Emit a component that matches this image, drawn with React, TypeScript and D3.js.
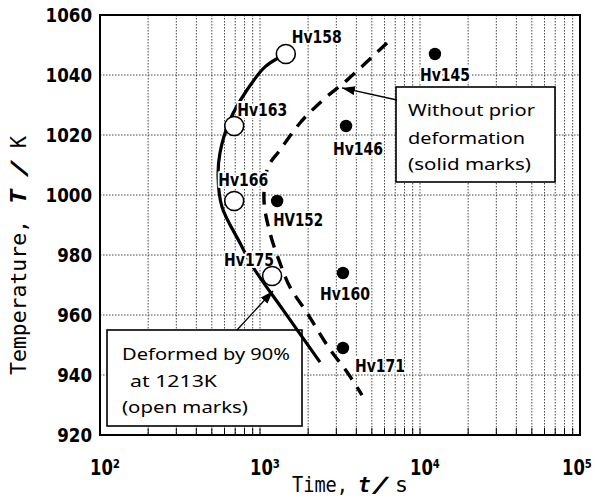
import React, { useEffect, useRef } from 'react';
import * as d3 from 'd3';

// axis ticks
const yTicks = [920, 940, 960, 980, 1000, 1020, 1040, 1060];
const xExponents = [2, 3, 4, 5];
const superDigits: Record<number, string> = { 2: '\u00B2', 3: '\u00B3', 4: '\u2074', 5: '\u2075' };

// open marks: deformed by 90% at 1213K
const openLabels = ['Hv158', 'Hv163', 'Hv166', 'Hv175'];
const openTime = [1450, 690, 690, 1190];
const openTemp = [1047, 1023, 998, 973];

// solid marks: without prior deformation
const solidLabels = ['Hv145', 'Hv146', 'HV152', 'Hv160', 'Hv171'];
const solidTime = [12400, 3450, 1280, 3300, 3300];
const solidTemp = [1047, 1023, 998, 974, 949];

// C-curve, deformed (solid line)
const deformedCurveTime = [1334, 1075, 829, 649, 562, 547, 579, 750, 904, 1393, 2371];
const deformedCurveTemp = [1046, 1042.7, 1035, 1025, 1014, 1006, 996, 984, 976, 961.7, 944.3];

// C-curve, no prior deformation (dashed line)
const plainCurveTime = [6220, 3500, 2475, 1778, 1334, 1122, 1059, 1155, 1334, 1540, 1967, 2700, 3500, 4340];
const plainCurveTemp = [1050.7, 1038.3, 1031.7, 1024, 1015, 1009.3, 998.3, 987.3, 977.3, 969.3, 960.7, 949, 941, 933.3];

// label offsets from the marker (px): [dx, dy]
const labelOffsets: Record<string, [number, number]> = {
  Hv158: [6, -18], Hv163: [3, -17], Hv166: [-16, -22], Hv175: [-48, -17],
  Hv145: [-15, 20], Hv146: [-13, 22], HV152: [-4, 18], Hv160: [-23, 20], Hv171: [12, 17],
};

const W = 599;
const H = 502;
const boldFont = "'DejaVu Sans Condensed', 'DejaVu Sans', sans-serif";
const titleFont = "'DejaVu Sans Mono', monospace";
const boxFont = "'Noto Sans', 'DejaVu Sans', sans-serif";

const App: React.FC = () => {
  const svgRef = useRef<SVGSVGElement>(null);

  useEffect(() => {
    if (!svgRef.current) return;
    const svg = d3.select(svgRef.current);
    svg.selectAll('*').remove();

    const left = 100, right = 580, top = 15, bottom = 435;
    const x = d3.scaleLog().domain([1e2, 1e5]).range([left, right]);
    const y = d3.scaleLinear().domain([920, 1060]).range([bottom, top]);

    svg.append('rect').attr('width', W).attr('height', H).attr('fill', '#fff');

    const defs = svg.append('defs');
    defs.append('marker')
      .attr('id', 'arrow')
      .attr('markerUnits', 'userSpaceOnUse')
      .attr('markerWidth', 14).attr('markerHeight', 10)
      .attr('refX', 13).attr('refY', 4.5)
      .attr('orient', 'auto')
      .append('path').attr('d', 'M0,0 L13,4.5 L0,9 Z').attr('fill', '#000');

    // grid
    const minor: number[] = [];
    [2, 3, 4].forEach(e => {
      for (let k = 1; k <= 9; k++) minor.push(k * Math.pow(10, e));
    });
    const inner = minor.filter(v => v > 100 && v < 1e5);
    const grid = svg.append('g').attr('stroke', '#333').attr('stroke-width', 0.9).attr('stroke-dasharray', '1.5,1.5');
    grid.selectAll('line.v').data(inner).join('line')
      .attr('x1', d => x(d)).attr('x2', d => x(d)).attr('y1', top).attr('y2', bottom);
    grid.selectAll('line.h').data(yTicks.filter(v => v > 920 && v < 1060)).join('line')
      .attr('x1', left).attr('x2', right).attr('y1', d => y(d)).attr('y2', d => y(d));

    // inner ticks on the time axis
    svg.append('g').attr('stroke', '#000').attr('stroke-width', 1)
      .selectAll('line').data(inner).join('line')
      .attr('x1', d => x(d)).attr('x2', d => x(d)).attr('y1', bottom).attr('y2', bottom - 7);

    // annotation boxes
    const box1 = { x: 396, y: 87, w: 159, h: 95 };
    const box2 = { x: 107, y: 330, w: 195, h: 96 };
    [box1, box2].forEach(b => {
      svg.append('rect').attr('x', b.x).attr('y', b.y).attr('width', b.w).attr('height', b.h)
        .attr('fill', '#fff').attr('stroke', '#000').attr('stroke-width', 1.6);
    });
    const boxText = (txt: string, tx: number, ty: number, len: number) =>
      svg.append('text').attr('x', tx).attr('y', ty).attr('font-family', boxFont)
        .attr('font-size', 17).attr('textLength', len).attr('lengthAdjust', 'spacingAndGlyphs')
        .attr('fill', '#000').text(txt);
    boxText('Without prior', 408, 116, 127);
    boxText('deformation', 408, 144, 117);
    boxText('(solid marks)', 408, 170, 123);
    boxText('Deformed by 90%', 122, 360, 168);
    boxText('at 1213K', 130, 387, 87);
    boxText('(open marks)', 122, 413, 126);

    // frame
    svg.append('rect').attr('x', left).attr('y', top).attr('width', right - left).attr('height', bottom - top)
      .attr('fill', 'none').attr('stroke', '#000').attr('stroke-width', 2);

    // curves
    const line = d3.line<[number, number]>()
      .x(d => x(d[0])).y(d => y(d[1]))
      .curve(d3.curveCatmullRom.alpha(0.5));
    svg.append('path')
      .attr('d', line(deformedCurveTime.map((t, i) => [t, deformedCurveTemp[i]]))!)
      .attr('fill', 'none').attr('stroke', '#000').attr('stroke-width', 3.2);
    svg.append('path')
      .attr('d', line(plainCurveTime.map((t, i) => [t, plainCurveTemp[i]]))!)
      .attr('fill', 'none').attr('stroke', '#000').attr('stroke-width', 3.4)
      .attr('stroke-dasharray', '13,9');

    // arrows
    svg.append('line').attr('x1', 397).attr('y1', 100).attr('x2', x(3254)).attr('y2', y(1035.7))
      .attr('stroke', '#000').attr('stroke-width', 1.3).attr('marker-end', 'url(#arrow)');
    svg.append('line').attr('x1', 237).attr('y1', 330).attr('x2', x(1205)).attr('y2', y(968))
      .attr('stroke', '#000').attr('stroke-width', 1.3).attr('marker-end', 'url(#arrow)');

    // point labels
    const labels = svg.append('g').attr('font-family', boldFont).attr('font-weight', 'bold')
      .attr('font-size', 18).attr('fill', '#000');
    const addLabel = (name: string, t: number, T: number) => {
      const [dx, dy] = labelOffsets[name];
      labels.append('text')
        .attr('x', x(t) + dx).attr('y', y(T) + dy + 6.5)
        .attr('textLength', 50).attr('lengthAdjust', 'spacingAndGlyphs')
        .attr('stroke', '#fff').attr('stroke-width', 4).attr('paint-order', 'stroke')
        .attr('stroke-linejoin', 'round')
        .text(name);
    };
    openLabels.forEach((n, i) => addLabel(n, openTime[i], openTemp[i]));
    solidLabels.forEach((n, i) => addLabel(n, solidTime[i], solidTemp[i]));

    // markers
    svg.append('g').selectAll('circle').data(openTime).join('circle')
      .attr('cx', d => x(d)).attr('cy', (d, i) => y(openTemp[i])).attr('r', 9.5)
      .attr('fill', '#fff').attr('stroke', '#000').attr('stroke-width', 1.6);
    svg.append('g').selectAll('circle').data(solidTime).join('circle')
      .attr('cx', d => x(d)).attr('cy', (d, i) => y(solidTemp[i])).attr('r', 6.2)
      .attr('fill', '#000');

    // y tick labels
    svg.append('g').attr('font-family', boldFont).attr('font-weight', 'bold').attr('font-size', 19)
      .selectAll('text').data(yTicks).join('text')
      .attr('x', 92).attr('y', d => y(d) + 7).attr('text-anchor', 'end')
      .attr('textLength', d => String(d).length * 11.6).attr('lengthAdjust', 'spacingAndGlyphs')
      .text(d => String(d));

    // x tick labels (10^n)
    svg.append('g').attr('font-family', boldFont).attr('font-weight', 'bold').attr('font-size', 21)
      .selectAll('text').data(xExponents).join('text')
      .attr('x', e => Math.min(x(Math.pow(10, e)), W - 27) - 10).attr('y', 475)
      .attr('textLength', 30).attr('lengthAdjust', 'spacingAndGlyphs')
      .text(e => '10' + superDigits[e]);

    // axis titles
    const xt = svg.append('g').attr('font-family', titleFont).attr('font-size', 21).attr('fill', '#000');
    xt.append('text').attr('x', 292).attr('y', 492).attr('textLength', 56)
      .attr('lengthAdjust', 'spacingAndGlyphs').text('Time,');
    xt.append('text').attr('x', 358).attr('y', 492).attr('font-weight', 'bold').attr('font-style', 'italic')
      .text('t');
    xt.append('text').attr('x', 370).attr('y', 492).attr('textLength', 22)
      .attr('lengthAdjust', 'spacingAndGlyphs').text('\u2215');
    xt.append('text').attr('x', 395).attr('y', 492).attr('textLength', 13)
      .attr('lengthAdjust', 'spacingAndGlyphs').text('s');

    const yt = svg.append('g').attr('transform', 'translate(26,0) rotate(-90)')
      .attr('font-family', titleFont).attr('font-size', 21).attr('fill', '#000');
    yt.append('text').attr('x', -375).attr('y', 0).attr('textLength', 155)
      .attr('lengthAdjust', 'spacingAndGlyphs').text('Temperature,');
    yt.append('text').attr('x', -204).attr('y', 0).attr('font-weight', 'bold').attr('font-style', 'italic')
      .attr('textLength', 15).attr('lengthAdjust', 'spacingAndGlyphs').text('T');
    yt.append('text').attr('x', -179).attr('y', 0).attr('textLength', 22)
      .attr('lengthAdjust', 'spacingAndGlyphs').text('\u2215');
    yt.append('text').attr('x', -148).attr('y', 0).attr('textLength', 12)
      .attr('lengthAdjust', 'spacingAndGlyphs').text('K');
  }, []);

  return (
    <svg ref={svgRef} width={W} height={H}
      style={{ position: 'absolute', left: 0, top: 0, display: 'block' }} />
  );
};

export default App;
